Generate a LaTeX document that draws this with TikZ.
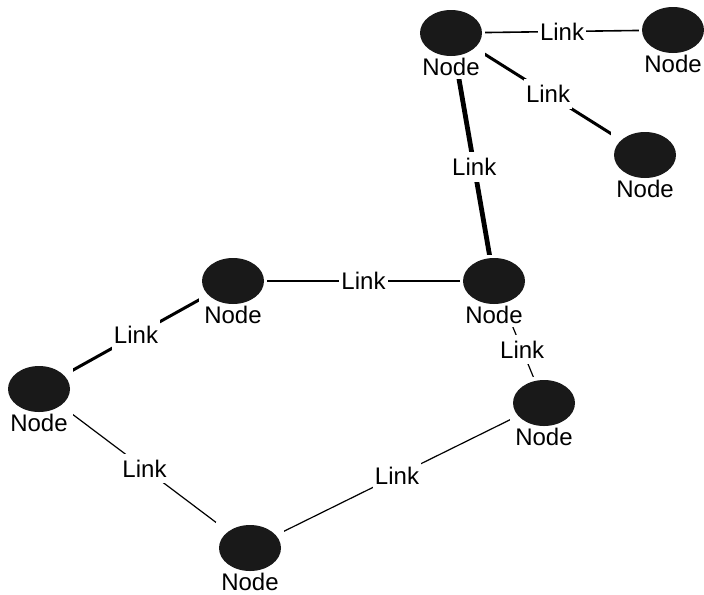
\documentclass[tikz,border=0pt]{standalone}
\usepackage{fontspec}
\setmainfont{Liberation Sans}
\usetikzlibrary{shapes.geometric,positioning,fit,backgrounds}
\tikzset{vert/.style={ellipse,fill=black!90,minimum width=31pt,minimum height=23pt,inner sep=0pt},
 tag/.style={inner sep=0pt,font=\fontsize{12}{14}\selectfont},
 cover/.style={fill=white,inner sep=1.5pt},
 lnk/.style={fill=white,inner xsep=1pt,inner ysep=3pt,font=\fontsize{12}{14}\selectfont}}
\tikzset{w1/.style={line width=0.6pt},w2/.style={line width=0.8pt},
 w3/.style={line width=1.5pt},w4/.style={line width=2.4pt}}

\begin{document}
\begin{tikzpicture}[x=0.5pt,y=-0.5pt]
\useasboundingbox (0,0) rectangle (704,594);
\node[vert] (n1) at (451,33) {};
\node[vert] (n2) at (673,30) {};
\node[vert] (n3) at (645,155) {};
\node[vert] (n4) at (494,281) {};
\node[vert] (n5) at (233,281) {};
\node[vert] (n6) at (39,389) {};
\node[vert] (n7) at (544,403) {};
\node[vert] (n8) at (250,548) {};
\node[tag,below=0.5pt of n1] (t1) {Node};
\node[tag,below=0.5pt of n2] (t2) {Node};
\node[tag,below=0.5pt of n3] (t3) {Node};
\node[tag,below=0.5pt of n4] (t4) {Node};
\node[tag,below=0.5pt of n5] (t5) {Node};
\node[tag,below=0.5pt of n6] (t6) {Node};
\node[tag,below=0.5pt of n7] (t7) {Node};
\node[tag,below=0.5pt of n8] (t8) {Node};
\begin{scope}[on background layer]
\draw[w2] (n1)--node[lnk]{Link}(n2);
\draw[w3] (n1)--node[lnk]{Link}(n3);
\draw[w4] (n1)--node[lnk,pos=0.55]{Link}(n4);
\draw[w1] (n5)--node[lnk]{Link}(n4);
\draw[w3] (n5)--node[lnk]{Link}(n6);
\draw[w1] (n4)--node[lnk,pos=0.6]{Link}(n7);
\draw[w1] (n6)--node[lnk]{Link}(n8);
\draw[w1] (n8)--node[lnk]{Link}(n7);
% white boxes so links stop at the node and its tag
\node[cover,fit=(n1)(t1)] {};
\node[cover,fit=(n2)(t2)] {};
\node[cover,fit=(n3)(t3)] {};
\node[cover,fit=(n4)(t4)] {};
\node[cover,fit=(n5)(t5)] {};
\node[cover,fit=(n6)(t6)] {};
\node[cover,fit=(n7)(t7)] {};
\node[cover,fit=(n8)(t8)] {};
\end{scope}
\end{tikzpicture}
\end{document}
